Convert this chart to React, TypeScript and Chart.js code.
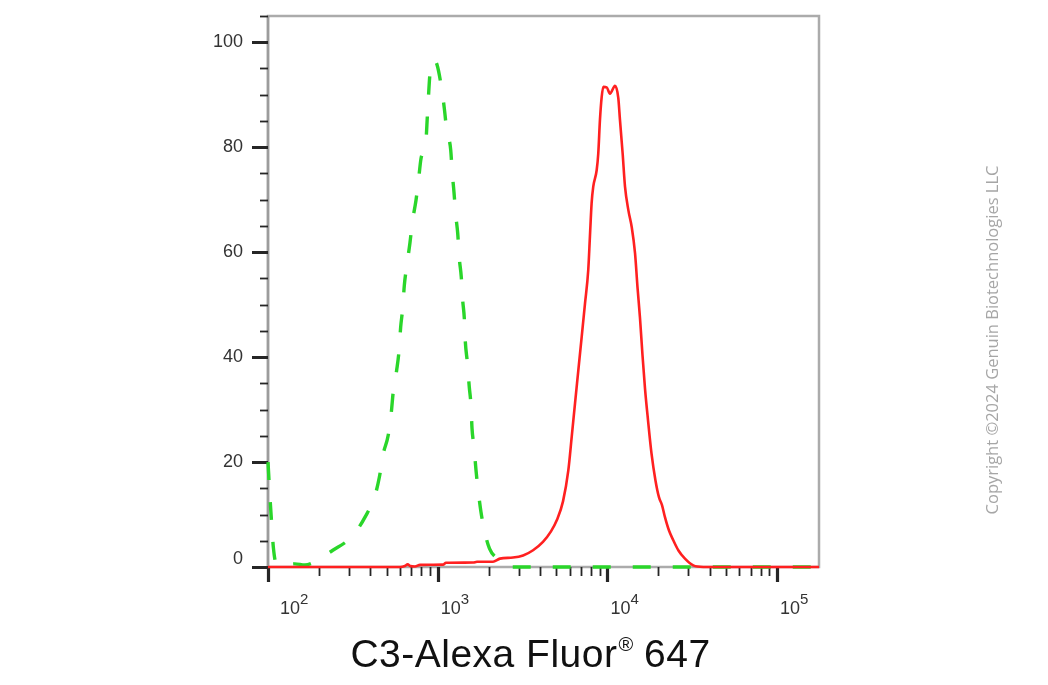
import React, { useEffect, useRef } from "react";
import { Chart, registerables } from "chart.js";

Chart.register(...registerables);

// ---- data ----
const redX = [100, 600, 641, 665, 690, 735, 787, 1075, 1119, 1615, 1705, 2118, 2329, 2778, 3185, 3648, 4172, 4651, 5047, 5476, 5885, 6162, 6445, 6743, 7058, 7379, 7713, 7888, 8072, 8254, 8646, 8836, 9040, 9250, 9462, 9907, 10355, 11087, 11593, 11860, 12300, 12700, 13290, 13910, 14550, 15040, 15560, 16090, 16660, 17350, 18200, 19200, 20130, 20980, 21840, 23040, 24450, 26170, 28650, 32070, 36730, 176600];
const redY = [0, 0, 0.2, 0.5, 0.2, 0.1, 0.4, 0.45, 0.8, 0.85, 1.0, 1.0, 1.6, 1.8, 2.2, 3.2, 4.8, 6.8, 9.0, 12.5, 18.4, 24.8, 31.2, 37.5, 43.9, 50.2, 56.6, 62.9, 69.3, 72.5, 75.6, 78.8, 85.2, 89.5, 91.5, 91.4, 90.2, 91.7, 89.4, 85.2, 78.8, 72.5, 68, 64.8, 59.8, 53.4, 47.5, 40.5, 34, 28, 21.6, 16.5, 13.3, 11.8, 9.5, 7, 5.1, 3.2, 1.6, 0.3, 0, 0];

const greenX = [100, 102.7, 105.1, 107.5, 112.5, 125, 144, 165, 189, 241, 296, 334, 373, 427, 453, 478, 511, 533, 547, 573, 591, 605, 622, 636, 656, 687, 708, 745, 769, 798, 853, 869, 881, 901, 942, 991, 1057, 1094, 1130, 1193, 1219, 1247, 1277, 1312, 1341, 1377, 1403, 1435, 1455, 1494, 1535, 1571, 1593, 1637, 1682, 1727, 1799, 1883, 2020, 2240, 2490, 2740, 176600];
const greenY = [20, 13.3, 8.3, 3.8, 0.4, 0.4, 0.6, 0.4, 1.0, 3.2, 5.1, 7.0, 9.5, 13.6, 17.1, 21.6, 25.1, 29.5, 33.4, 37.5, 41.0, 45.7, 49.3, 53.7, 57.2, 61.9, 65.6, 69.9, 73.4, 77.9, 81.3, 85.9, 89.3, 94.1, 96.6, 95.7, 91.0, 87.4, 83.3, 79.5, 75.0, 71.5, 67.1, 63.6, 58.8, 55.3, 50.9, 47.4, 42.9, 39.1, 34.3, 30.8, 26.4, 22.9, 18.4, 14.9, 10.5, 7.0, 3.5, 1.6, 0.4, 0, 0];

const X_MIN = 100;
const X_MAX = 176600;
const Y_MIN = 0;
const Y_MAX = 105;

const xDecades = [100, 1000, 10000, 100000];
const xExponents = ["2", "3", "4", "5"];
const xMinorMultipliers = [2, 3, 4, 5, 6, 7, 8, 9];

const yMajorLabels = [0, 20, 40, 60, 80, 100];
const yMinorStep = 5;

const titleMain = "C3-Alexa Fluor";
const titleSup = "\u00AE";
const titleTail = " 647";
const copyrightText = "Copyright \u00A92024 Genuin Biotechnologies LLC";

const SANS = "'Liberation Sans', Arial, Helvetica, sans-serif";

const decorPlugin = {
  id: "decor",
  beforeDatasetsDraw(chart: any) {
    const { ctx, chartArea: a, scales } = chart;
    const x = scales.x;
    const y = scales.y;
    ctx.save();
    // frame
    ctx.strokeStyle = "#ababab";
    ctx.lineWidth = 2.5;
    ctx.strokeRect(a.left, a.top, a.right - a.left, a.bottom - a.top);
    ctx.strokeStyle = "#9c9c9c";
    ctx.beginPath();
    ctx.moveTo(a.left, a.top);
    ctx.lineTo(a.left, a.bottom);
    ctx.stroke();

    // y ticks
    ctx.strokeStyle = "#262626";
    for (const t of y.ticks) {
      const py = Math.round(y.getPixelForValue(t.value)) + 0.5;
      const major = yMajorLabels.indexOf(t.value) >= 0;
      ctx.lineWidth = major ? 3 : 1.8;
      const len = major ? 16 : 8;
      ctx.beginPath();
      ctx.moveTo(a.left - len, py);
      ctx.lineTo(a.left, py);
      ctx.stroke();
    }
    // x ticks
    for (const t of x.ticks) {
      const px = Math.round(x.getPixelForValue(t.value)) + 0.5;
      const major = !!t.major;
      ctx.lineWidth = major ? 3.2 : 1.8;
      const len = major ? 15 : 9;
      ctx.beginPath();
      ctx.moveTo(px, a.bottom);
      ctx.lineTo(px, a.bottom + len);
      ctx.stroke();
    }
    ctx.restore();
  },
  afterDraw(chart: any) {
    const { ctx, chartArea: a, scales } = chart;
    const x = scales.x;
    ctx.save();
    // x tick labels 10^n
    ctx.fillStyle = "#333333";
    ctx.textBaseline = "alphabetic";
    ctx.textAlign = "left";
    for (const t of x.ticks) {
      if (!t.major) continue;
      const idx = xDecades.indexOf(t.value);
      if (idx < 0) continue;
      const px = x.getPixelForValue(t.value);
      const x0 = Math.max(px + 3, a.left + 12);
      ctx.font = `18px ${SANS}`;
      ctx.fillText("10", x0, a.bottom + 47);
      const w = ctx.measureText("10").width;
      ctx.font = `15px ${SANS}`;
      ctx.fillText(xExponents[idx], x0 + w, a.bottom + 37);
    }
    // axis title
    ctx.fillStyle = "#111111";
    (ctx as any).letterSpacing = "0.5px";
    ctx.font = `39px ${SANS}`;
    const w1 = ctx.measureText(titleMain).width;
    const w3 = ctx.measureText(titleTail).width;
    ctx.font = `20px ${SANS}`;
    const w2 = ctx.measureText(titleSup).width;
    const total = w1 + w2 + w3;
    const sx = 530.5 - total / 2;
    const base = 667;
    ctx.font = `39px ${SANS}`;
    ctx.fillText(titleMain, sx, base);
    ctx.font = `20px ${SANS}`;
    ctx.fillText(titleSup, sx + w1 + 1, base - 16);
    ctx.font = `39px ${SANS}`;
    ctx.fillText(titleTail, sx + w1 + w2, base);
    (ctx as any).letterSpacing = "0px";

    // copyright (vertical)
    ctx.fillStyle = "#a6a6a6";
    ctx.font = `16.5px 'Open Sans', 'Noto Sans', sans-serif`;
    ctx.translate(993, 340);
    ctx.rotate(-Math.PI / 2);
    ctx.textAlign = "center";
    ctx.textBaseline = "middle";
    ctx.fillText(copyrightText, 0, 0);
    ctx.restore();
  },
};

export default function App() {
  const ref = useRef<HTMLCanvasElement | null>(null);

  useEffect(() => {
    if (!ref.current) return;
    const chart = new Chart(ref.current, {
      type: "line",
      data: {
        datasets: [
          {
            label: "C3-Alexa Fluor 647",
            data: redX.map((v, i) => ({ x: v, y: redY[i] })),
            borderColor: "rgb(255, 32, 32)",
            borderWidth: 2.6,
            pointRadius: 0,
            fill: false,
            tension: 0.4,
            cubicInterpolationMode: "monotone",
            clip: false as any,
          },
          {
            label: "Isotype control",
            data: greenX.map((v, i) => ({ x: v, y: greenY[i] })),
            borderColor: "rgb(42, 214, 42)",
            borderWidth: 3.4,
            borderDash: [18, 22],
            pointRadius: 0,
            fill: false,
            tension: 0.4,
            cubicInterpolationMode: "monotone",
            clip: false as any,
          },
        ],
      },
      options: {
        responsive: false,
        animation: false,
        devicePixelRatio: 1,
        events: [],
        layout: { padding: { left: 0, right: 229, top: 16, bottom: 0 } },
        plugins: {
          legend: { display: false },
          tooltip: { enabled: false },
          title: { display: false },
        },
        scales: {
          x: {
            type: "logarithmic",
            position: "bottom",
            min: X_MIN,
            max: X_MAX,
            grid: { display: false, drawTicks: false },
            border: { display: false },
            ticks: { display: false },
            afterBuildTicks: (scale: any) => {
              const ticks: any[] = [];
              for (const d of xDecades) {
                if (d >= X_MIN && d <= X_MAX) ticks.push({ value: d, major: true });
                for (const m of xMinorMultipliers) {
                  const v = d * m;
                  if (v > X_MIN && v < X_MAX) ticks.push({ value: v, major: false });
                }
              }
              ticks.sort((p, q) => p.value - q.value);
              scale.ticks = ticks;
            },
            afterFit: (scale: any) => {
              scale.height = 118;
              scale.paddingLeft = 0;
              scale.paddingRight = 0;
            },
          },
          y: {
            type: "linear",
            position: "left",
            min: Y_MIN,
            max: Y_MAX,
            grid: { display: false, drawTicks: false },
            border: { display: false },
            afterBuildTicks: (scale: any) => {
              const ticks: any[] = [];
              for (let v = Y_MIN; v <= Y_MAX; v += yMinorStep) ticks.push({ value: v });
              scale.ticks = ticks;
            },
            ticks: {
              autoSkip: false,
              padding: 25,
              color: "#333333",
              font: { family: SANS, size: 18, lineHeight: 0.85 },
              callback: (value: any) => {
                const v = Number(value);
                if (yMajorLabels.indexOf(v) < 0) return "";
                if (v === 0) return ["0", ""];
                return String(v);
              },
            },
            afterFit: (scale: any) => {
              scale.width = 268;
              scale.paddingTop = 0;
              scale.paddingBottom = 0;
            },
          },
        },
      },
      plugins: [decorPlugin],
    });
    return () => chart.destroy();
  }, []);

  return (
    <div style={{ position: "absolute", left: 0, top: 0, width: 1048, height: 685, background: "#ffffff" }}>
      <canvas ref={ref} width={1048} height={685} style={{ display: "block", width: 1048, height: 685 }} />
    </div>
  );
}
